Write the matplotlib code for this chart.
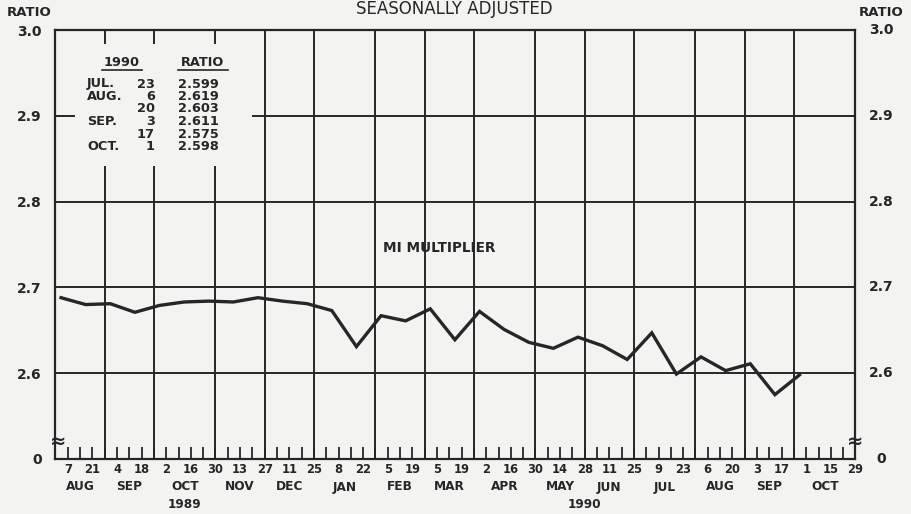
import matplotlib
matplotlib.use("Agg")
import matplotlib.pyplot as plt
import matplotlib.transforms as mtransforms
from matplotlib.patches import Rectangle
import pandas as pd
import numpy as np

# ---------------- data ----------------
dates = ["1989-08-07", "1989-08-21", "1989-09-04", "1989-09-18", "1989-10-02",
         "1989-10-16", "1989-10-30", "1989-11-13", "1989-11-27", "1989-12-11",
         "1989-12-25", "1990-01-08", "1990-01-22", "1990-02-05", "1990-02-19",
         "1990-03-05", "1990-03-19", "1990-04-02", "1990-04-16", "1990-04-30",
         "1990-05-14", "1990-05-28", "1990-06-11", "1990-06-25", "1990-07-09",
         "1990-07-23", "1990-08-06", "1990-08-20", "1990-09-03", "1990-09-17",
         "1990-10-01"]
values = [2.688, 2.680, 2.681, 2.671, 2.679, 2.683, 2.684, 2.683, 2.688, 2.684,
          2.681, 2.673, 2.631, 2.667, 2.661, 2.675, 2.639, 2.672, 2.651, 2.636,
          2.629, 2.642, 2.632, 2.616, 2.647, 2.599, 2.619, 2.603, 2.611, 2.575,
          2.598]

month_labels = ["AUG", "SEP", "OCT", "NOV", "DEC", "JAN", "FEB", "MAR", "APR",
                "MAY", "JUN", "JUL", "AUG", "SEP", "OCT"]
month_ends = ["1989-08-28", "1989-09-25", "1989-10-30", "1989-11-27", "1989-12-25",
              "1990-01-29", "1990-02-26", "1990-03-26", "1990-04-30", "1990-05-28",
              "1990-06-25", "1990-07-30", "1990-08-27", "1990-09-24", "1990-10-29"]
ytick_vals = [2.5, 2.6, 2.7, 2.8, 2.9, 3.0]
ytick_labels = ["0", "2.6", "2.7", "2.8", "2.9", "3.0"]

table_months = ["JUL.", "AUG.", "", "SEP.", "", "OCT."]
table_days = ["23", "6", "20", "3", "17", "1"]
table_ratios = ["2.599", "2.619", "2.603", "2.611", "2.575", "2.598"]

# ---------------- helpers ----------------
origin = pd.Timestamp("1989-07-31")
def wk(d):
    return (pd.Timestamp(d) - origin).days / 7.0

INK = "#262626"
BG = "#f3f3f1"
FONT = "DejaVu Sans"

fig = plt.figure(figsize=(9.12, 5.14), dpi=100, facecolor=BG)
W, H = 912, 514
ax = fig.add_axes([55.5 / W, 1 - 459 / H, 800 / W, 429 / H])
ax.set_facecolor(BG)
ax.set_xlim(0, 65)
ax.set_ylim(2.5, 3.0)

for s in ax.spines.values():
    s.set_linewidth(1.6)
    s.set_color(INK)

# grid lines
for d in month_ends[:-1]:
    ax.axvline(wk(d), color=INK, lw=1.4, zorder=1)
for yv in [2.6, 2.7, 2.8, 2.9]:
    ax.axhline(yv, color=INK, lw=1.4, zorder=1)

# blank box for the inset table
ax.add_patch(Rectangle((1.58, 2.842), 15.94 - 1.58, 2.9835 - 2.842,
                       facecolor=BG, edgecolor="none", zorder=2))

# data line
xs = np.array([wk(d) for d in dates]) - 0.55
ax.plot(xs, values, color=INK, lw=2.4, zorder=3, solid_joinstyle="miter")

# x ticks
weeks = np.arange(1, 66)
ax.set_xticks(weeks, minor=True)
major_dates = pd.date_range("1989-08-07", "1990-10-29", freq="14D")
ax.set_xticks([wk(d) for d in major_dates])
ax.set_xticklabels([str(d.day) for d in major_dates], fontsize=8.3,
                   fontweight="bold", family=FONT, color=INK)
ax.tick_params(axis="x", which="both", direction="in", length=8.5, width=1.3,
               color=INK, pad=3, top=False)

# y ticks (left)
ax.set_yticks(ytick_vals)
ax.set_yticklabels(ytick_labels, fontsize=10, fontweight="bold", family=FONT, color=INK)
ax.tick_params(axis="y", which="both", length=0, pad=10)

# y labels (right)
trR = mtransforms.blended_transform_factory(ax.transAxes, ax.transData)
for yv, lbl in zip(ytick_vals, ytick_labels):
    ax.text(1.0325, yv, lbl, transform=trR, ha="center", va="center",
            fontsize=10, fontweight="bold", family=FONT, color=INK, clip_on=False)

# month / year labels
trX = mtransforms.blended_transform_factory(ax.transData, fig.transFigure)
bounds = [0] + [wk(d) for d in month_ends]
for i, m in enumerate(month_labels):
    cx = (bounds[i] + bounds[i + 1]) / 2
    ax.text(cx, 1 - 487 / H, m, transform=trX, ha="center", va="center",
            fontsize=8.7, fontweight="bold", family=FONT, color=INK)
ax.text((bounds[2] + bounds[3]) / 2, 1 - 505 / H, "1989", transform=trX,
        ha="center", va="center", fontsize=8.7, fontweight="bold", family=FONT, color=INK)
ax.text(bounds[10], 1 - 505 / H, "1990", transform=trX,
        ha="center", va="center", fontsize=8.7, fontweight="bold", family=FONT, color=INK)

# header texts
fig.text(29 / W, 1 - 13 / H, "RATIO", ha="center", va="center", fontsize=9.5,
         fontweight="bold", family=FONT, color=INK)
fig.text(881 / W, 1 - 13 / H, "RATIO", ha="center", va="center", fontsize=9.5,
         fontweight="bold", family=FONT, color=INK)
fig.text(454 / W, 1 - 14 / H, "SEASONALLY ADJUSTED", ha="center", va="baseline",
         fontsize=12, family=FONT, color=INK)

# series label
fig.text(439 / W, 1 - 248 / H, "MI MULTIPLIER", ha="center", va="center",
         fontsize=9.8, fontweight="bold", family=FONT, color=INK)

# axis break marks
for xf in [58 / W, 855 / W]:
    fig.text(xf, 1 - 441 / H, "\u2248", ha="center", va="center", fontsize=14,
             fontweight="bold", family=FONT, color=INK)

# inset table
TFS = 9.3
fig.text(122 / W, 1 - 63 / H, "1990", ha="center", va="center", fontsize=TFS,
         fontweight="bold", family=FONT, color=INK)
fig.text(203 / W, 1 - 63 / H, "RATIO", ha="center", va="center", fontsize=TFS,
         fontweight="bold", family=FONT, color=INK)
fig.add_artist(plt.Line2D([102 / W, 142 / W], [1 - 70 / H] * 2, color=INK, lw=1.2))
fig.add_artist(plt.Line2D([178 / W, 228 / W], [1 - 70 / H] * 2, color=INK, lw=1.2))
row_y = [84, 96.5, 109, 121.5, 134, 146.5]
for y, m, d, r in zip(row_y, table_months, table_days, table_ratios):
    fig.text(87 / W, 1 - y / H, m, ha="left", va="center", fontsize=TFS,
             fontweight="bold", family=FONT, color=INK)
    fig.text(155 / W, 1 - y / H, d, ha="right", va="center", fontsize=TFS,
             fontweight="bold", family=FONT, color=INK)
    fig.text(178 / W, 1 - y / H, r, ha="left", va="center", fontsize=TFS,
             fontweight="bold", family=FONT, color=INK)

fig.savefig("out.png", dpi=100, facecolor=BG)
